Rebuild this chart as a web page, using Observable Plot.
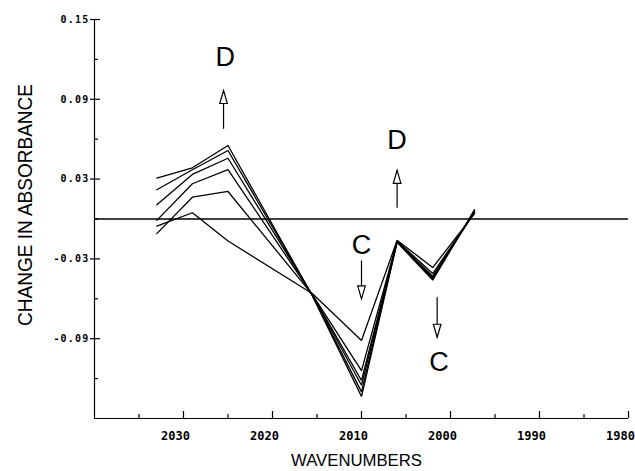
<!DOCTYPE html>
<html><head><meta charset="utf-8">
<script src="https://cdn.jsdelivr.net/npm/d3@7"></script>
<script src="https://cdn.jsdelivr.net/npm/@observablehq/plot@0.6"></script>
<style>html,body{margin:0;padding:0;background:#fff}</style>
</head><body><div id="chart"></div>
<script>
// ---- data ----
const wavenumbers = [2033, 2029, 2025, 2015.5, 2010, 2006, 2002, 1997.3];
const spectrum1 = [-0.0054, 0.0047, -0.0165, -0.0562, -0.0914, -0.0160, -0.0365, 0.004];
const spectrum2 = [-0.0110, 0.0164, 0.0207, -0.0570, -0.1140, -0.0165, -0.0410, 0.005];
const spectrum3 = [-0.0010, 0.0265, 0.0372, -0.0572, -0.1214, -0.0170, -0.0430, 0.005];
const spectrum4 = [0.0107, 0.0335, 0.0457, -0.0575, -0.1250, -0.0170, -0.0440, 0.006];
const spectrum5 = [0.0220, 0.0370, 0.0515, -0.0578, -0.1300, -0.0172, -0.0450, 0.006];
const spectrum6 = [0.0307, 0.0385, 0.0553, -0.0580, -0.1335, -0.0175, -0.0460, 0.007];
const spectra = [spectrum1, spectrum2, spectrum3, spectrum4, spectrum5, spectrum6];

const xDomain = [2040, 1980];
const yDomain = [-0.15, 0.15];
const xMajorTicks = [2030, 2020, 2010, 2000, 1990, 1980];
const xMinorTicks = [2035, 2025, 2015, 2005, 1995, 1985];
const yMajorTicks = [0.15, 0.09, 0.03, -0.03, -0.09];
const yTickLabels = ["0.15", "0.09", "0.03", "-0.03", "-0.09"];
const yMinorTicks = [0.12, 0.06, 0, -0.06, -0.12];

const xTitle = "WAVENUMBERS";
const yTitle = "CHANGE IN ABSORBANCE";

// annotations (letters and arrows) in data units
const annotLabels = ["D", "D", "C", "C"];
const annotX = [2025.3, 2006.0, 2010.0, 2001.3];
const annotY = [0.1217, 0.0592, -0.0199, -0.1077];
const arrowDir = ["up", "up", "down", "down"];
const arrowX = [2025.5, 2006.0, 2010.0, 2001.5];
const arrowFrom = [0.0678, 0.0085, -0.0312, -0.0588];
const arrowTo = [0.0966, 0.0366, -0.0600, -0.0889];

// ---- build tables ----
const lineData = [];
spectra.forEach((s, k) => s.forEach((v, i) => lineData.push({series: k + 1, w: wavenumbers[i], a: v})));
const annots = annotLabels.map((t, i) => ({t, x: annotX[i], y: annotY[i]}));
const arrows = arrowDir.map((d, i) => ({d, x: arrowX[i], y1: arrowFrom[i], y2: arrowTo[i]}));

const upHead = {draw(c) { c.moveTo(0, 0); c.lineTo(-3.8, 13); c.lineTo(3.8, 13); c.closePath(); }};
const downHead = {draw(c) { c.moveTo(0, 0); c.lineTo(-3.8, -13); c.lineTo(3.8, -13); c.closePath(); }};

const tickFont = "DejaVu Sans Mono";
const plot = Plot.plot({
  width: 635, height: 471,
  marginLeft: 94, marginRight: 7, marginTop: 19, marginBottom: 53,
  x: {domain: xDomain},
  y: {domain: yDomain},
  style: {background: "white", color: "black"},
  marks: [
    Plot.ruleY([0], {stroke: "black", strokeWidth: 1.4}),
    Plot.ruleX([xDomain[0]], {stroke: "black", strokeWidth: 1.2}),
    Plot.ruleY([yDomain[0]], {stroke: "black", strokeWidth: 1.2}),
    // x ticks (inward)
    Plot.axisX(xMajorTicks, {tickSize: -7, fill: "none", label: null, strokeWidth: 1.2}),
    Plot.axisX(xMinorTicks, {tickSize: -4, fill: "none", label: null, strokeWidth: 1.2}),
    Plot.axisX(xMajorTicks, {tickSize: 0, tickPadding: 13, label: null, dx: -8,
      tickFormat: d => String(d), fontFamily: tickFont, fontWeight: "bold", fontSize: 12}),
    // y ticks
    Plot.axisY(yMajorTicks, {tickSize: 4, fill: "none", label: null, strokeWidth: 1.2}),
    Plot.axisY(yMajorTicks, {tickSize: -6, fill: "none", label: null, strokeWidth: 1.2}),
    Plot.axisY(yMinorTicks, {tickSize: -4, fill: "none", label: null, strokeWidth: 1.2}),
    Plot.axisY(yMajorTicks, {tickSize: 0, tickPadding: 5, label: null,
      tickFormat: d => yTickLabels[yMajorTicks.indexOf(d)], fontFamily: tickFont, fontWeight: "bold", fontSize: 10}),
    // titles
    Plot.text([yTitle], {frameAnchor: "left", textAnchor: "middle", lineAnchor: "middle", rotate: -90, dx: -69, dy: -14, text: d => d,
      fontFamily: "Liberation Sans", fontSize: 20, fill: "black"}),
    Plot.text([xTitle], {frameAnchor: "bottom", textAnchor: "middle", lineAnchor: "middle", dx: -5, dy: 42, text: d => d,
      fontFamily: "Liberation Sans", fontSize: 16, fill: "black"}),
    // spectra
    Plot.line(lineData, {x: "w", y: "a", z: "series", stroke: "black",
      strokeWidth: 1.3, strokeLinejoin: "miter"}),
    // arrows
    Plot.link(arrows, {x1: "x", x2: "x", y1: "y1", y2: "y2", stroke: "black", strokeWidth: 1.2}),
    Plot.dot(arrows.filter(a => a.d === "up"), {x: "x", y: "y2", symbol: upHead, fill: "white", stroke: "black", strokeWidth: 1.2}),
    Plot.dot(arrows.filter(a => a.d === "down"), {x: "x", y: "y2", symbol: downHead, fill: "white", stroke: "black", strokeWidth: 1.2}),
    Plot.text(annots, {x: "x", y: "y", text: "t", fontFamily: "Liberation Sans", fontSize: 27, fill: "black", lineAnchor: "middle"})
  ]
});
const svg = d3.select(plot);
svg.selectAll("text").filter(function() { return this.textContent === yTitle; })
  .attr("textLength", 242).attr("lengthAdjust", "spacingAndGlyphs");
svg.selectAll("text").filter(function() { return this.textContent === xTitle; })
  .attr("textLength", 131).attr("lengthAdjust", "spacingAndGlyphs");
svg.selectAll("text").filter(function() { return yTickLabels.includes(this.textContent); })
  .attr("letter-spacing", 1.2);
document.getElementById("chart").appendChild(plot);
</script>
</body></html>
